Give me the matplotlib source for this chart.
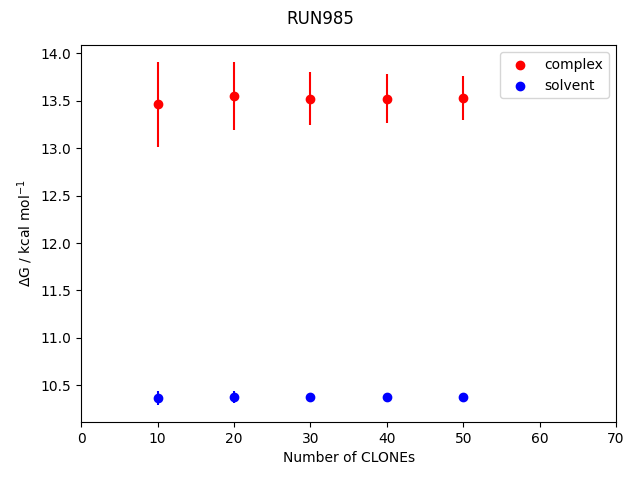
import matplotlib
matplotlib.use('Agg')
import matplotlib.pyplot as plt

# Number of clones and free energies
clones = [10, 20, 30, 40, 50]
complex_dg = [13.46, 13.55, 13.52, 13.52, 13.53]
complex_err = [0.445, 0.355, 0.28, 0.26, 0.23]
solvent_dg = [10.37, 10.38, 10.38, 10.38, 10.38]
solvent_err = [0.075, 0.065, 0.02, 0.02, 0.02]

fig = plt.figure(figsize=(6.4, 4.8), dpi=100)

plt.scatter(clones, complex_dg, color='red', label='complex')
plt.errorbar(clones, complex_dg, yerr=complex_err, color='red', linestyle='none')
plt.scatter(clones, solvent_dg, color='blue', label='solvent')
plt.errorbar(clones, solvent_dg, yerr=solvent_err, color='blue', linestyle='none')

plt.xlim(0, 70)
plt.xlabel('Number of CLONEs')
plt.ylabel(r'$\Delta$G / kcal mol$^{-1}$')
plt.legend(loc='upper right')
fig.suptitle('RUN985', y=0.98)

plt.subplots_adjust(left=0.127, right=0.9625, top=0.906, bottom=0.121)
plt.savefig('out.png')
